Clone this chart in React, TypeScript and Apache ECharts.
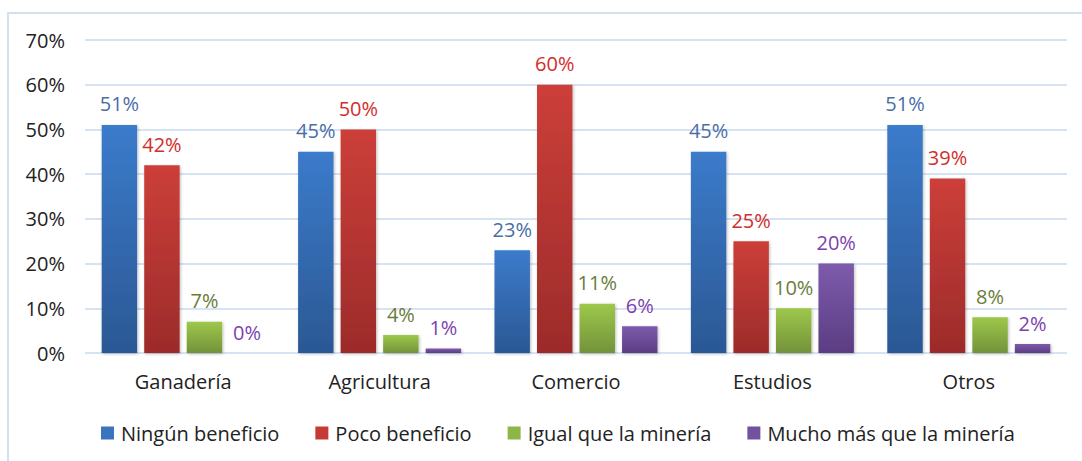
import React, { useEffect, useRef } from "react";
import * as echarts from "echarts";

const categories = ["Ganadería", "Agricultura", "Comercio", "Estudios", "Otros"];
const seriesNames = ["Ningún beneficio", "Poco beneficio", "Igual que la minería", "Mucho más que la minería"];
const ningun = [51, 45, 23, 45, 51];
const poco = [42, 50, 60, 25, 39];
const igual = [7, 4, 11, 10, 8];
const mucho = [0, 1, 6, 20, 2];
const yTicks = [0, 10, 20, 30, 40, 50, 60, 70];

const FONT = "Open Sans";
const FS = 20;

const styles = [
  { top: "#3B7BCB", bottom: "#2B5894", legend: "#3A74BE", label: "#4A6EA6" },
  { top: "#CC3F39", bottom: "#9C2B2A", legend: "#C63A35", label: "#D12E2B" },
  { top: "#9DC84B", bottom: "#73923A", legend: "#8DB646", label: "#6A7C3A" },
  { top: "#7D5BAC", bottom: "#5B3D83", legend: "#7151A0", label: "#7B3FB0" },
];

export default function App() {
  const ref = useRef<HTMLDivElement>(null);
  useEffect(() => {
    if (!ref.current) return;
    const chart = echarts.init(ref.current, null, { renderer: "svg" });
    const datasets = [ningun, poco, igual, mucho];
    chart.setOption({
      animation: false,
      backgroundColor: "#ffffff",
      graphic: [
        {
          type: "rect",
          shape: { x: 8, y: 13, width: 1200, height: 600 },
          style: { fill: "none", stroke: "#D3E0F0", lineWidth: 2 },
          silent: true,
          z: -1,
        },
      ],
      grid: { left: 85, right: 15, top: 40, bottom: 108, containLabel: false },
      legend: {
        left: 96,
        top: 418,
        itemWidth: 13,
        itemHeight: 13,
        itemGap: 36,
        icon: "rect",
        textStyle: { fontFamily: FONT, fontSize: FS, color: "#222", padding: [0, 0, 0, 2] },
        data: seriesNames.map((n, i) => ({ name: n, itemStyle: { color: styles[i].legend } })),
      },
      xAxis: {
        type: "category",
        data: categories,
        axisLine: { show: false },
        axisTick: { show: false },
        axisLabel: { fontFamily: FONT, fontSize: FS, color: "#222", margin: 18 },
      },
      yAxis: {
        type: "value",
        min: 0,
        max: 70,
        interval: 10,
        axisLine: { show: false },
        axisTick: { show: false },
        splitLine: { lineStyle: { color: "#D6E3F3", width: 2 } },
        axisLabel: {
          fontFamily: FONT,
          fontSize: FS,
          color: "#222",
          margin: 20,
          formatter: (v: number) => (yTicks.includes(v) ? v + "%" : ""),
        },
      },
      series: datasets.map((d, i) => ({
        name: seriesNames[i],
        type: "bar",
        data: d,
        barGap: "20%",
        barCategoryGap: "17%",
        itemStyle: {
          color: new echarts.graphic.LinearGradient(0, 0, 0, 1, [
            { offset: 0, color: styles[i].top },
            { offset: 1, color: styles[i].bottom },
          ]),
          shadowBlur: 3,
          shadowColor: "rgba(0,0,0,0.25)",
          shadowOffsetX: 1,
          shadowOffsetY: 1,
        },
        label: {
          show: true,
          position: "top",
          distance: 11,
          formatter: "{c}%",
          fontFamily: FONT,
          fontSize: FS,
          color: styles[i].label,
        },
      })),
    });
    return () => chart.dispose();
  }, []);
  return (
    <div
      ref={ref}
      style={{ position: "fixed", left: 0, top: 0, width: 1082, height: 461 }}
    />
  );
}
